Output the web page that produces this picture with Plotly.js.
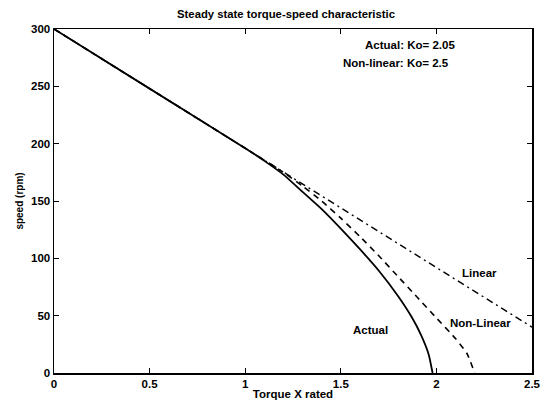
<!DOCTYPE html>
<html>
<head>
<meta charset="utf-8">
<script src="https://cdn.plot.ly/plotly-3.0.1.min.js"></script>
<style>
  html, body { margin: 0; padding: 0; background: #fff; }
  #chart { width: 550px; height: 400px; }
</style>
</head>
<body>
<div id="chart"></div>
<script>
// Steady-state torque-speed curves (torque in multiples of rated, speed in rpm)
const actualTorque = [0, 0.5, 1.0, 1.1, 1.2, 1.3, 1.4, 1.5, 1.6, 1.7, 1.8, 1.87, 1.92, 1.96, 1.98];
const actualSpeed  = [300, 248, 196, 185, 173, 158, 143, 126, 108, 89, 67, 49, 33, 16, 0];

const nonlinearTorque = [0, 0.5, 1.0, 1.2, 1.3, 1.4, 1.5, 1.6, 1.7, 1.8, 1.9, 2.0, 2.1, 2.16, 2.2];
const nonlinearSpeed  = [300, 248, 196, 175, 163, 150, 135, 119, 102, 84, 66, 48, 30, 17, 0];

const linearTorque = [0, 2.5];
const linearSpeed  = [300, 40];

const xTicks = [0, 0.5, 1, 1.5, 2, 2.5];
const xTickLabels = ['0', '0.5', '1', '1.5', '2', '2.5'];
const yTicks = [0, 50, 100, 150, 200, 250, 300];
const yTickLabels = ['0', '50', '100', '150', '200', '250', '300'];

const baseFont = { family: 'Liberation Sans, Arial, sans-serif', color: '#000', weight: 700 };
const titleFont = Object.assign({}, baseFont, { size: 11.3 });
const tickFont = Object.assign({}, baseFont, { size: 11.5 });
const xTitleFont = Object.assign({}, baseFont, { size: 11.5 });
const yTitleFont = Object.assign({}, baseFont, { size: 10 });
const labelFont = Object.assign({}, baseFont, { size: 11.5 });

const traces = [
  { x: linearTorque, y: linearSpeed, mode: 'lines', name: 'Linear',
    line: { color: '#000', width: 1.4, dash: '7px,4px,2px,4px' } },
  { x: nonlinearTorque, y: nonlinearSpeed, mode: 'lines', name: 'Non-Linear',
    line: { color: '#000', width: 1.6, dash: '6px,5px', shape: 'spline', smoothing: 0.5 } },
  { x: actualTorque, y: actualSpeed, mode: 'lines', name: 'Actual',
    line: { color: '#000', width: 1.8, shape: 'spline', smoothing: 0.5 } }
];

const axisCommon = {
  showline: true, linecolor: '#000', linewidth: 1.5, mirror: 'ticks',
  ticks: 'inside', ticklen: 5, tickwidth: 1, tickcolor: '#000',
  showgrid: false, zeroline: false, tickfont: tickFont
};

const layout = {
  width: 550, height: 400,
  margin: { l: 54, r: 18, t: 29, b: 27 },
  paper_bgcolor: '#fff', plot_bgcolor: '#fff',
  showlegend: false,
  font: baseFont,
  title: { text: 'Steady state torque-speed characteristic', font: titleFont,
           x: 0.52, xanchor: 'center', y: 0.965, yanchor: 'middle' },
  xaxis: Object.assign({}, axisCommon, {
    range: [0, 2.5], tickvals: xTicks, ticktext: xTickLabels,
    title: { text: 'Torque X rated', font: xTitleFont, standoff: 3 }
  }),
  yaxis: Object.assign({}, axisCommon, {
    range: [0, 300], tickvals: yTicks, ticktext: yTickLabels,
    title: { text: 'speed (rpm)', font: yTitleFont, standoff: 5 }
  }),
  annotations: [
    { x: 1.862, y: 286, xref: 'x', yref: 'y', text: 'Actual: Ko= 2.05', showarrow: false,
      xanchor: 'center', yanchor: 'middle', font: labelFont },
    { x: 1.789, y: 270, xref: 'x', yref: 'y', text: 'Non-linear: Ko= 2.5', showarrow: false,
      xanchor: 'center', yanchor: 'middle', font: labelFont },
    { x: 2.228, y: 87, xref: 'x', yref: 'y', text: 'Linear', showarrow: false,
      xanchor: 'center', yanchor: 'middle', font: labelFont },
    { x: 2.233, y: 44, xref: 'x', yref: 'y', text: 'Non-Linear', showarrow: false,
      xanchor: 'center', yanchor: 'middle', font: labelFont },
    { x: 1.653, y: 37.5, xref: 'x', yref: 'y', text: 'Actual', showarrow: false,
      xanchor: 'center', yanchor: 'middle', font: labelFont }
  ]
};

Plotly.newPlot('chart', traces, layout, { staticPlot: true, displayModeBar: false });
</script>
</body>
</html>
